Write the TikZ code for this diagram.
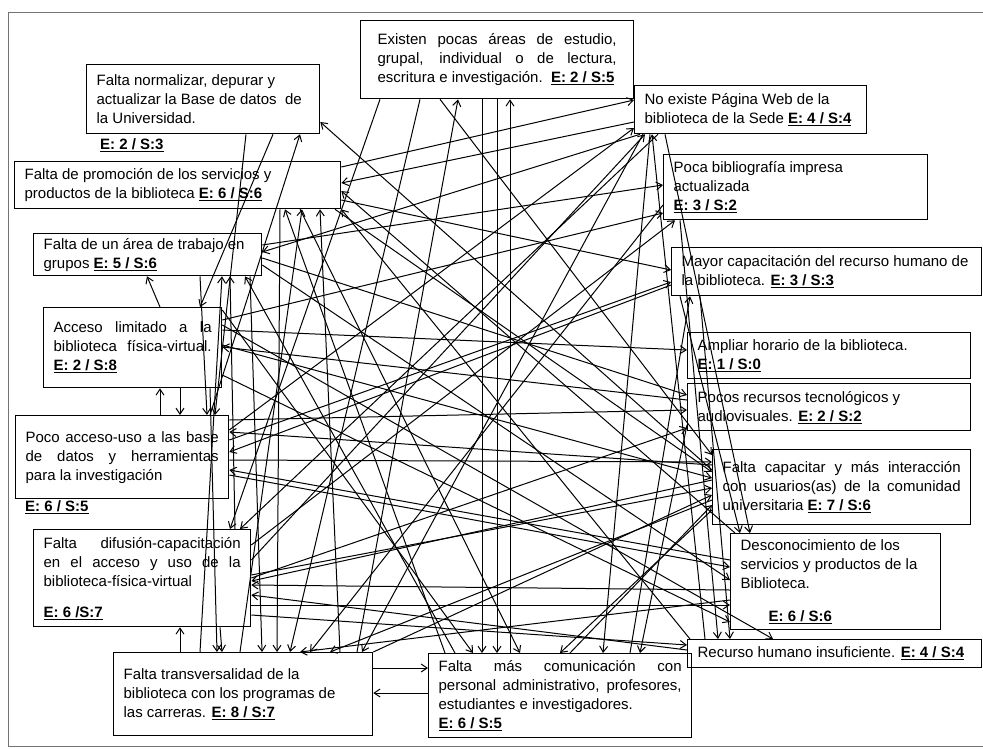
\documentclass[tikz,border=0pt]{standalone}
\usepackage{fontspec}
\setmainfont{Liberation Sans}
\usetikzlibrary{arrows.meta}
\newcommand\sco[1]{\underline{\textbf{#1}}}
\newcommand\jl[1]{\makebox[\hsize][s]{#1}}
\tikzset{
  box/.style={draw, line width=1.3pt, rectangle, anchor=north west,
              inner xsep=10pt, inner ysep=2pt, align=left,
              font=\fontsize{15}{19}\selectfont,
              execute at begin node={\spaceskip=0pt\xspaceskip=0pt}},
  score/.style={anchor=west, inner sep=0pt, font=\fontsize{15}{19}\selectfont},
  arr/.style={-{Straight Barb[length=6pt,width=8pt]}, line width=1pt},
}

\begin{document}
\begin{tikzpicture}[x=1pt, y=-1pt]
  \useasboundingbox (0,0) rectangle (983,748);
  \draw[black!55, line width=0.8pt] (8,12) rectangle (995,746);  % frame

  % top and left column
  \node[box, inner xsep=17pt, minimum width=273pt, minimum height=78pt, text width=239pt] (exist) at (360,20)
    {\jl{Existen pocas áreas de estudio,}\\ \jl{grupal, individual o de lectura,}\\ \mbox{escritura e investigación.\ \ \sco{E: 2 / S:5}}};
  \node[box, minimum width=233pt, minimum height=69pt, text width=213pt] (norm) at (86,64)
    {Falta normalizar, depurar y\\ actualizar la Base de datos\ \ de\\ la Universidad.};
  \node[score] (normsc) at (100,145) {\sco{E: 2 / S:3}};
  \node[box, minimum width=326pt, minimum height=47pt, text width=306pt] (prom) at (14,161)
    {Falta de promoción de los servicios y\\ productos de la biblioteca \sco{E: 6 / S:6}};
  \node[box, minimum width=228pt, minimum height=42pt, text width=208pt] (grupo) at (33,233)
    {\mbox{Falta de un área de trabajo en}\\ grupos \sco{E: 5 / S:6}};
  \node[box, minimum width=178pt, minimum height=80pt, text width=158pt] (acceso) at (43,307)
    {\jl{Acceso limitado a la}\\ \jl{biblioteca física-virtual.}\\ \sco{E: 2 / S:8}};
  \node[box, minimum width=213pt, minimum height=83pt, text width=193pt] (pocoacc) at (15,415)
    {\jl{Poco acceso-uso a las base}\\ \jl{de datos y herramientas}\\ para la investigación};
  \node[score] (pocosc) at (25,507) {\sco{E: 6 / S:5}};
  \node[box, minimum width=217pt, minimum height=97pt, text width=197pt] (difus) at (33,529)
    {\jl{Falta difusión-capacitación}\\ \jl{en el acceso y uso de la}\\ biblioteca-física-virtual\\[12pt] \sco{E: 6 /S:7}};
  \node[box, minimum width=259pt, minimum height=83pt, text width=239pt] (transv) at (113,652)
    {Falta transversalidad de la\\ biblioteca con los programas de\\ las carreras. \sco{E: 8 / S:7}};
  \node[box, minimum width=263pt, minimum height=84pt, text width=243pt] (comun) at (428,653)
    {\jl{Falta más comunicación con}\\ \jl{personal administrativo, profesores,}\\ estudiantes e investigadores.\\ \sco{E: 6 / S:5}};

  % right column
  \node[box, minimum width=232pt, minimum height=48pt, text width=212pt] (web) at (634,85)
    {No existe Página Web de la\\ \mbox{biblioteca de la Sede \sco{E: 4 / S:4}}};
  \node[box, minimum width=264pt, minimum height=65pt, text width=244pt] (biblio) at (663,154)
    {Poca bibliografía impresa\\ actualizada\\ \sco{E: 3 / S:2}};
  \node[box, minimum width=310pt, minimum height=48pt, text width=290pt] (mayor) at (671,247)
    {\mbox{Mayor capacitación del recurso humano de}\\ la biblioteca. \sco{E: 3 / S:3}};
  \node[box, minimum width=283pt, minimum height=46pt, text width=263pt] (horario) at (687,332)
    {Ampliar horario de la biblioteca.\\ \sco{E: 1 / S:0}};
  \node[box, minimum width=283pt, minimum height=47pt, text width=263pt] (tecno) at (687,383)
    {Pocos recursos tecnológicos y\\ audiovisuales. \sco{E: 2 / S:2}};
  \node[box, minimum width=258pt, minimum height=75pt, text width=238pt] (capac) at (712,449)
    {\jl{Falta capacitar y más interacción}\\ \jl{con usuarios(as) de la comunidad}\\ universitaria \sco{E: 7 / S:6}};
  \node[box, minimum width=210pt, minimum height=96pt, text width=190pt] (descon) at (730,533)
    {Desconocimiento de los\\ \mbox{servicios y productos de la}\\ Biblioteca.\\[14pt] \hspace*{28pt}\sco{E: 6 / S:6}};
  \node[box, minimum width=294pt, minimum height=28pt, text width=274pt] (recurso) at (687,639)
    {Recurso humano insuficiente. \sco{E: 4 / S:4}};

  % left column links
  \draw[arr] ([xshift=117pt]acceso.north west) -- ([xshift=114pt]grupo.south west);
  \draw[arr] ([xshift=145pt]pocoacc.north west) -- ([xshift=117pt]acceso.south west);
  \draw[arr] ([xshift=137pt]acceso.south west) -- ([xshift=165pt]pocoacc.north west);
  \draw[arr] ([xshift=67pt]transv.north west) -- ([xshift=147pt]difus.south west);
  \draw[arr] ([yshift=-16pt]transv.north east) -- ([yshift=-15pt]comun.north west);
  \draw[arr] ([yshift=-40pt]comun.north west) -- ([yshift=-41pt]transv.north east);

  % links across the middle
  \draw[arr] ([xshift=82pt]comun.north west) -- ([xshift=150pt]exist.south west);
  \draw[arr] ([xshift=244pt]transv.north west) -- ([xshift=98pt]exist.south west);
  \draw[arr] ([xshift=195pt]pocoacc.north west) -- ([xshift=214pt]norm.south west);
  \draw[arr] ([yshift=-21pt]capac.north west) -- ([yshift=-58pt]norm.north east);
  \draw[arr] ([yshift=-6pt]prom.north east) -- ([yshift=-15pt]web.north west);
  \draw[arr] ([yshift=-15pt]pocoacc.north east) -- ([yshift=-43pt]web.north west);
  \draw[arr] ([yshift=-31pt]difus.north east) -- ([xshift=11pt]web.south west);
  \draw[arr] ([xshift=18pt]recurso.north west) -- ([xshift=18pt]web.south west);
  \draw[arr] ([yshift=-37pt]web.north west) -- ([yshift=-22pt]prom.north east);
  \draw[arr] ([xshift=17pt]comun.north west) -- ([xshift=271pt]prom.south west);
  \draw[arr] ([xshift=127pt]transv.north west) -- ([xshift=288pt]prom.south west);
  \draw[arr] ([xshift=227pt]transv.north west) -- ([xshift=306pt]prom.south west);
  \draw[arr] ([xshift=3pt]recurso.north west) -- (prom.south east);
  \draw[arr] ([xshift=5pt]descon.north west) -- ([yshift=-30pt]prom.north east);
  \draw[arr] ([yshift=-12pt]grupo.north east) -- ([yshift=-31pt]biblio.north west);
  \draw[arr] ([yshift=-13pt]acceso.north east) -- ([yshift=-59pt]biblio.north west);
  \draw[arr] ([yshift=-16pt]difus.north east) -- ([xshift=12pt]biblio.south west);
  \draw[arr] ([xshift=87pt]transv.north west) -- ([xshift=189pt]grupo.south west);
  \draw[arr] ([xshift=202pt]difus.north west) -- ([xshift=197pt]grupo.south west);
  \draw[arr] ([xshift=27pt]comun.north west) -- ([xshift=212pt]grupo.south west);
  \draw[arr] ([xshift=6pt]web.south west) -- ([yshift=-19pt]grupo.north east);
  \draw[arr] ([yshift=-39pt]prom.north east) -- ([yshift=-23pt]mayor.north west);
  \draw[arr] ([yshift=-25pt]pocoacc.north east) -- ([yshift=-35pt]mayor.north west);
  \draw[arr] ([xshift=202pt]comun.north west) -- ([xshift=19pt]mayor.south west);
  \draw[arr] ([xshift=187pt]norm.south west) -- ([xshift=157pt]acceso.north west);
  \draw[arr] ([yshift=-23pt]acceso.north east) -- ([yshift=-18pt]horario.north west);
  \draw[arr] ([yshift=-5pt]pocoacc.north east) -- ([yshift=-27pt]tecno.north west);
  \draw[arr] ([yshift=-49pt]difus.north east) -- ([yshift=-45pt]tecno.north west);
  \draw[arr] ([xshift=167pt]grupo.south west) -- ([xshift=192pt]pocoacc.north west);
  \draw[arr] ([xshift=160pt]norm.south west) -- ([xshift=200pt]pocoacc.north west);
  \draw[arr] ([yshift=-16pt]capac.north west) -- ([yshift=-17pt]pocoacc.north east);
  \draw[arr] ([yshift=-27pt]descon.north west) -- ([yshift=-55pt]pocoacc.north east);
  \draw[arr] ([yshift=-38pt]mayor.north west) -- ([yshift=-37pt]pocoacc.north east);
  \draw[arr] ([xshift=321pt]prom.south west) -- ([yshift=-23pt]capac.north west);
  \draw[arr] ([yshift=-38pt]acceso.north east) -- ([yshift=-29pt]capac.north west);
  \draw[arr] ([yshift=-45pt]pocoacc.north east) -- ([yshift=-13pt]capac.north west);
  \draw[arr] ([yshift=-46pt]difus.north east) -- ([yshift=-39pt]capac.north west);
  \draw[arr] (transv.north east) -- ([yshift=-46pt]capac.north west);
  \draw[arr] ([xshift=142pt]comun.north west) -- ([yshift=-56pt]capac.north west);
  \draw[arr] ([xshift=80pt]exist.south west) -- ([yshift=-6pt]capac.north west);
  \draw[arr] ([xshift=20pt]exist.south west) -- ([xshift=197pt]difus.north west);
  \draw[arr] ([yshift=-31pt]capac.north west) -- ([yshift=-52pt]difus.north east);
  \draw[arr] ([yshift=-57pt]descon.north west) -- ([yshift=-56pt]difus.north east);
  \draw[arr] ([yshift=-11pt]recurso.north west) -- ([yshift=-66pt]difus.north east);
  \draw[arr] ([xshift=24pt]web.south west) -- ([xshift=207pt]difus.north west);
  \draw[arr] ([xshift=217pt]grupo.south west) -- ([xshift=149pt]transv.north west);
  \draw[arr] ([xshift=266pt]prom.south west) -- ([xshift=164pt]transv.north west);
  \draw[arr] ([xshift=60pt]exist.south west) -- ([xshift=177pt]transv.north west);
  \draw[arr] ([xshift=9pt]web.south west) -- ([xshift=249pt]transv.north west);
  \draw[arr] ([yshift=-51pt]biblio.north west) -- ([xshift=197pt]transv.north west);
  \draw[arr] ([xshift=167pt]acceso.south west) -- ([xshift=104pt]transv.north west);
  \draw[arr] ([xshift=187pt]difus.south west) -- ([xshift=109pt]transv.north west);
  \draw[arr] ([xshift=122pt]exist.south west) -- ([xshift=54pt]comun.north west);
  \draw[arr] ([xshift=137pt]exist.south west) -- ([xshift=69pt]comun.north west);
  \draw[arr] ([xshift=286pt]prom.south west) -- ([xshift=92pt]comun.north west);
  \draw[arr] ([xshift=16pt]web.south west) -- ([xshift=175pt]comun.north west);
  \draw[arr] ([yshift=-3pt]acceso.north east) -- ([xshift=45pt]comun.north west);
  \draw[arr] ([xshift=31pt]web.south west) -- ([xshift=20pt]descon.north west);
  \draw[arr] ([yshift=-60pt]pocoacc.north east) -- ([yshift=-34pt]descon.north west);
  \draw[arr] ([yshift=-32pt]grupo.north east) -- ([yshift=-47pt]descon.north west);
  \draw[arr] ([yshift=-76pt]difus.north east) -- ([yshift=-72pt]descon.north west);
  \draw[arr] ([yshift=-68pt]acceso.north east) -- ([yshift=-89pt]descon.north west);
  \draw[arr] ([xshift=9pt]mayor.south west) -- ([xshift=10pt]descon.north west);
  \draw[arr] ([yshift=-86pt]difus.north east) -- ([yshift=-6pt]recurso.north west);
  \draw[arr] ([xshift=17pt]biblio.south west) -- ([xshift=31pt]recurso.north west);
  \draw[arr] ([xshift=29pt]mayor.south west) -- ([xshift=43pt]recurso.north west);
  \draw[arr] ([yshift=-18pt]acceso.north east) -- ([xshift=86pt]recurso.north west);
  \draw[arr] ([yshift=-25pt]grupo.north east) -- ([yshift=-12pt]tecno.north west);
  \draw[arr] ([yshift=-51pt]capac.north west) -- ([xshift=217pt]transv.north west);
  \draw[arr] ([yshift=-61pt]capac.north west) -- ([xshift=132pt]comun.north west);
  \draw[arr] ([yshift=-67pt]descon.north west) -- ([xshift=187pt]transv.north west);
  \draw[arr] ([yshift=-42pt]tecno.north west) -- ([xshift=212pt]comun.north west);
  \draw[arr] ([yshift=-17pt]tecno.north west) -- ([yshift=-40pt]acceso.north east);
\end{tikzpicture}
\end{document}
